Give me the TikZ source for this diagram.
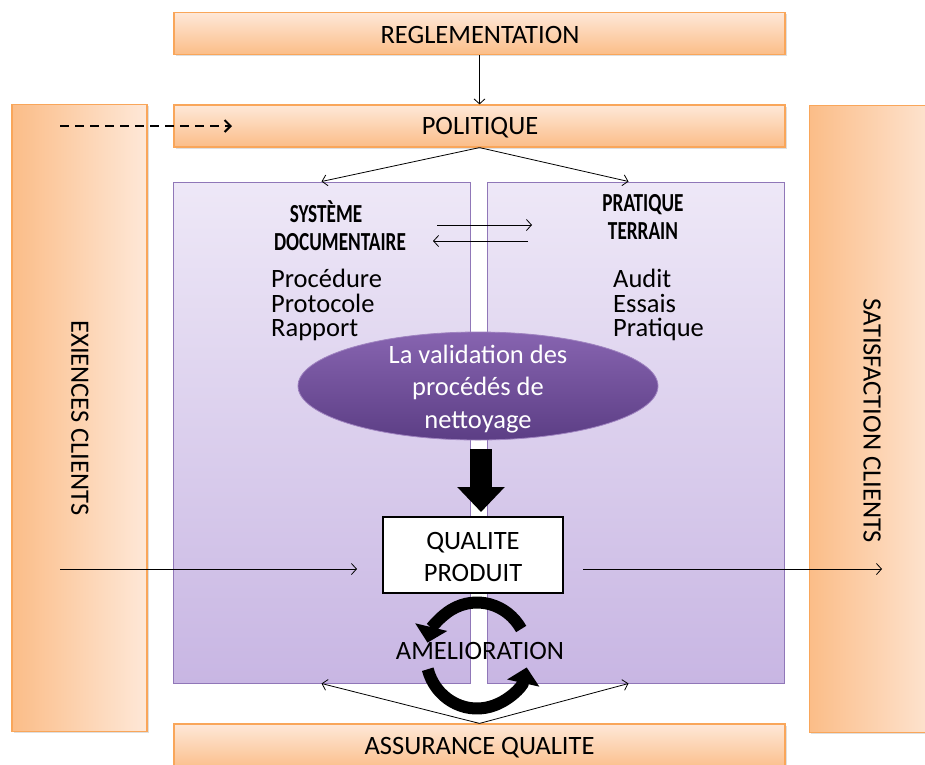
\documentclass[tikz,border=0pt]{standalone}
\usepackage{fontspec}
\setmainfont{Carlito}
\newfontfamily\headfont{Carlito}[FakeStretch=0.74]
\usetikzlibrary{arrows.meta,shapes.geometric,shadows}

\definecolor{orline}{HTML}{F9A65A}
\definecolor{orlight}{HTML}{FEE8D8}
\definecolor{ordark}{HTML}{FBBD88}
\definecolor{pline}{HTML}{9077B8}
\definecolor{plight}{HTML}{EEE8F7}
\definecolor{pdark}{HTML}{C8B6E3}
\definecolor{etop}{HTML}{8764B0}
\definecolor{ebot}{HTML}{5C3E85}

\begin{document}
\begin{tikzpicture}[x=1pt,y=1pt,
  bigfont/.style={font=\fontsize{26.5}{32.5}\selectfont},
  hbar/.style={draw=orline, line width=1.2pt, top color=orlight, bottom color=ordark,
    minimum width=611pt, minimum height=42pt, inner sep=0pt, bigfont,
    drop shadow={opacity=0.25, shadow xshift=1.5pt, shadow yshift=-1.5pt}},
  vbar/.style={draw=orline, line width=1.2pt, left color=ordark, right color=orlight,
    minimum height=627pt, inner sep=0pt,
    drop shadow={opacity=0.25, shadow xshift=1.5pt, shadow yshift=-1.5pt}},
  panel/.style={draw=pline, line width=1pt, top color=plight, bottom color=pdark,
    minimum width=297pt, minimum height=501pt, inner sep=0pt},
  head/.style={font=\headfont\fontsize{26}{28}\selectfont\bfseries, align=center, inner sep=0pt},
  items/.style={font=\fontsize{26.5}{24.5}\selectfont, align=left, anchor=north west, inner sep=0pt},
  thin/.style={line width=0.8pt, -{Straight Barb[length=5pt, width=11pt]}},
  cyc/.style={line width=12pt, -{Triangle[length=16pt, width=32pt]}}
]
\useasboundingbox (0,0) rectangle (925,-764);
\clip (0,0) rectangle (925,-764);

% side columns
\node[vbar, minimum width=135pt] (exi) at (79.5,-418) {};
\node[vbar, minimum width=135pt] (sat) at (877,-419) {};
\node[rotate=-90, bigfont] (exitxt) at (80,-418) {EXIENCES CLIENTS};
\node[rotate=-90, bigfont] (sattxt) at (872,-421) {SATISFACTION CLIENTS};

% horizontal bars
\node[hbar] (reg) at (479.5,-33.5) {};
\node[bigfont, inner sep=0pt] (regtxt) at (480,-34.5) {REGLEMENTATION};
\node[hbar] (pol) at (479.5,-126) {};
\node[bigfont, inner sep=0pt] (poltxt) at (480,-128) {POLITIQUE};
\node[hbar, minimum height=46pt] (aq) at (479.5,-747) {};
\node[bigfont, inner sep=0pt] (aqtxt) at (479.5,-748) {ASSURANCE QUALITE};

% two panels
\node[panel] (lp) at (321.5,-432.5) {};
\node[panel] (rp) at (635.5,-432.5) {};

\node[head] (sdt) at (340,-226) {SYSTÈME\hspace*{28pt}\\DOCUMENTAIRE};
\node[head] (ptt) at (643,-217) {PRATIQUE\\TERRAIN};

\node[items] (sdl) at (271,-269) {Procédure\\Protocole\\Rapport};
\node[items] (ptl) at (613,-269) {Audit\\Essais\\Pratique};

% central ellipse
\node[ellipse, draw=etop!80!white, line width=0.8pt, top color=etop, bottom color=ebot,
  minimum width=360pt, minimum height=108pt, inner sep=0pt] (val) at (478,-386) {};
\node[text=white, align=center, bigfont, inner sep=0pt] (valtxt) at (478,-389)
  {La validation des\\procédés de\\nettoyage};

% product box
\node[draw=black, line width=2pt, fill=white, minimum width=180pt, minimum height=76pt,
  inner sep=0pt] (qp) at (473,-555) {};
\node[align=center, bigfont, inner sep=0pt] (qptxt) at (473,-557) {QUALITE\\PRODUIT};

% connectors
\draw[thin] (reg.south) -- (pol.north);
\draw[thin] (pol.south) -- (lp.north);
\draw[thin] (pol.south) -- ([xshift=-7pt]rp.north);
\draw[thin] (aq.north) -- (lp.south);
\draw[thin] (aq.north) -- ([xshift=-7pt]rp.south);

\coordinate (dstart) at (60,-126);
\draw[line width=2pt, dash pattern=on 9pt off 6pt, -{Straight Barb[length=6pt, width=12pt]}]
  (dstart) -- (232,-126);

\coordinate (sdr) at (437,-225);
\coordinate (ptl1) at (532,-225);
\coordinate (ptl2) at (528,-241);
\coordinate (sdr2) at (433,-241);
\draw[thin] (sdr) -- (ptl1);
\draw[thin] (ptl2) -- (sdr2);

\coordinate (ein) at (60,-569);
\coordinate (sout) at (882,-569);
\draw[thin] (ein) -- ([xshift=-25pt]qp.west |- ein);
\draw[thin] ([xshift=19pt]qp.east |- sout) -- (sout);

% bold arrow from the ellipse down to the product box
\coordinate (bt) at ([xshift=3pt,yshift=-9pt]val.south);
\draw[line width=22pt, -{Triangle[length=25pt, width=46pt]}]
  (bt) -- ([yshift=4pt]bt |- qp.north);

% improvement cycle
\coordinate (cc) at (477,-655.5);
\draw[cyc] ([shift={(30:51pt and 53pt)}]cc) arc[start angle=30, end angle=166, x radius=51pt, y radius=53pt];
\draw[cyc] ([shift={(195:51pt and 53pt)}]cc) arc[start angle=195, end angle=347, x radius=51pt, y radius=53pt];
\node[bigfont, inner sep=0pt] (amel) at (480,-651) {AMELIORATION};
\end{tikzpicture}
\end{document}
